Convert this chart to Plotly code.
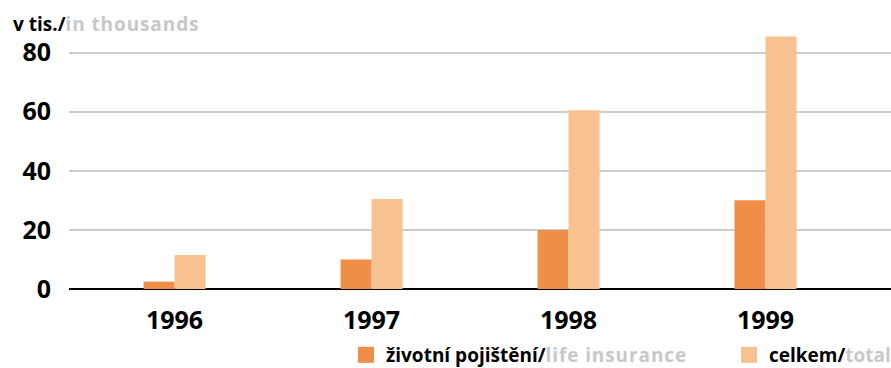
import plotly.graph_objects as go

# Insurance contracts, in thousands
years = ["1996", "1997", "1998", "1999"]
life_insurance = [2.5, 10, 20, 30]
total = [11.5, 30.5, 60.5, 85.5]
y_ticks = [0, 20, 40, 60, 80]

LIFE_COLOR = "#EE8E48"
TOTAL_COLOR = "#F7C190"
GREY_TEXT = "#C8C8C8"
FONT = "Open Sans"

W, H = 891, 368
M_L, M_R, M_T, M_B = 69, 0, 29, 77
PLOT_W = W - M_L - M_R
PLOT_H = H - M_T - M_B


def bilingual(cz, en, spacing):
    return (f"<b>{cz}/</b><b style='color:{GREY_TEXT};"
            f"letter-spacing:{spacing}px'>{en}</b>")


series = [
    (life_insurance, LIFE_COLOR, bilingual("životní pojištění", "life insurance", 0.9)),
    (total, TOTAL_COLOR, bilingual("celkem", "total", 0)),
]

fig = go.Figure()
for values, color, label in series:
    fig.add_trace(go.Bar(
        x=years, y=values, marker_color=color, marker_line_width=0,
        name=label, legendgroup=label, showlegend=False,
    ))
    # square legend key
    fig.add_trace(go.Scatter(
        x=[None], y=[None], mode="markers", name=label, legendgroup=label,
        marker=dict(symbol="square", size=16, color=color, line_width=0),
    ))

fig.update_layout(
    width=W, height=H,
    margin=dict(l=M_L, r=M_R, t=M_T, b=M_B),
    paper_bgcolor="white", plot_bgcolor="white",
    font=dict(family=FONT, color="black"),
    barmode="group", bargap=0.685, bargroupgap=0,
    showlegend=True,
    legend=dict(
        orientation="h", xref="container", yref="container",
        x=346 / W, y=1 - 355 / H, xanchor="left", yanchor="middle",
        font=dict(family=FONT, size=19, color="black"),
        entrywidth=338, entrywidthmode="pixels",
        bgcolor="rgba(0,0,0,0)", traceorder="normal",
    ),
    xaxis=dict(
        type="category", range=[-0.536, 3.637],
        showgrid=False, showline=False, ticks="",
        tickfont=dict(family=FONT, size=25, color="black", weight="bold"),
        ticklabelstandoff=14,
    ),
    yaxis=dict(
        range=[0, 88], tickvals=y_ticks,
        showgrid=True, gridcolor="#CCCCCC", gridwidth=1.5,
        zeroline=True, zerolinecolor="black", zerolinewidth=2,
        showline=False, ticks="",
        tickfont=dict(family=FONT, size=25, color="black", weight="bold"),
        ticklabelstandoff=17,
    ),
    annotations=[dict(
        xref="paper", yref="paper",
        x=(11 - M_L) / PLOT_W, y=(H - M_B - 24) / PLOT_H,
        xanchor="left", yanchor="middle", showarrow=False,
        text=bilingual("v tis.", "in thousands", 0.9),
        font=dict(family=FONT, size=19, color="black"),
    )],
)

fig.write_html("out.html")
